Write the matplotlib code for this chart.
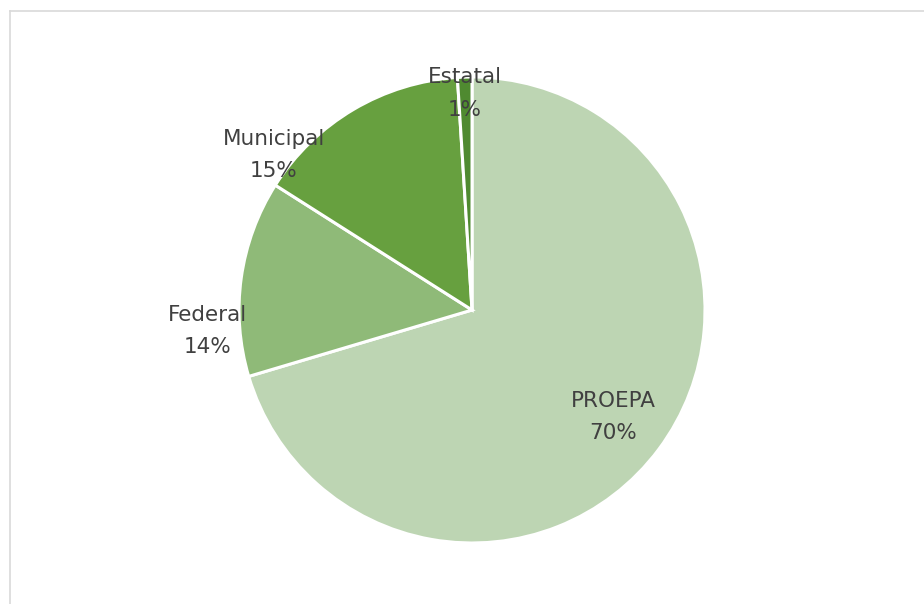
import matplotlib
matplotlib.use("Agg")
import matplotlib.pyplot as plt
from matplotlib.lines import Line2D

# Data
categories = ["PROEPA", "Federal", "Municipal", "Estatal"]
shares = [70.4, 13.6, 15.0, 1.0]
colors = ["#bdd5b3", "#8fba78", "#67a03f", "#4f8a30"]

# Label placement (data units, pie radius = 1)
label_pos = [(0.605, -0.46), (-1.137, -0.09), (-0.85, 0.665), (-0.03, 0.93)]

plt.rcParams["font.family"] = ["DejaVu Sans"]

fig = plt.figure(figsize=(9.24, 6.04), dpi=100)
ax = fig.add_axes([0.2587, 0.101, 0.5043, 0.7715])

wedges, _ = ax.pie(
    shares,
    colors=colors,
    startangle=90,
    counterclock=False,
    radius=1.0,
    wedgeprops=dict(edgecolor="white", linewidth=2.2),
)

total = sum(shares)
for name, val, (x, y) in zip(categories, shares, label_pos):
    ax.text(x, y, f"{name}\n{round(val / total * 100):.0f}%", ha="center", va="center",
            fontsize=15.5, color="#404040", linespacing=1.78)

ax.set_xlim(-1, 1)
ax.set_ylim(-1, 1)
ax.set_aspect("equal")
ax.axis("off")

# chart frame (only top and left edges are visible in the crop)
fig.add_artist(Line2D([9.5 / 924, 9.5 / 924], [0, 1 - 10.5 / 604], color="#d9d9d9", lw=1.2,
                      transform=fig.transFigure))
fig.add_artist(Line2D([9.5 / 924, 1], [1 - 10.5 / 604, 1 - 10.5 / 604], color="#d9d9d9", lw=1.2,
                      transform=fig.transFigure))

fig.savefig("out.png", dpi=100)
